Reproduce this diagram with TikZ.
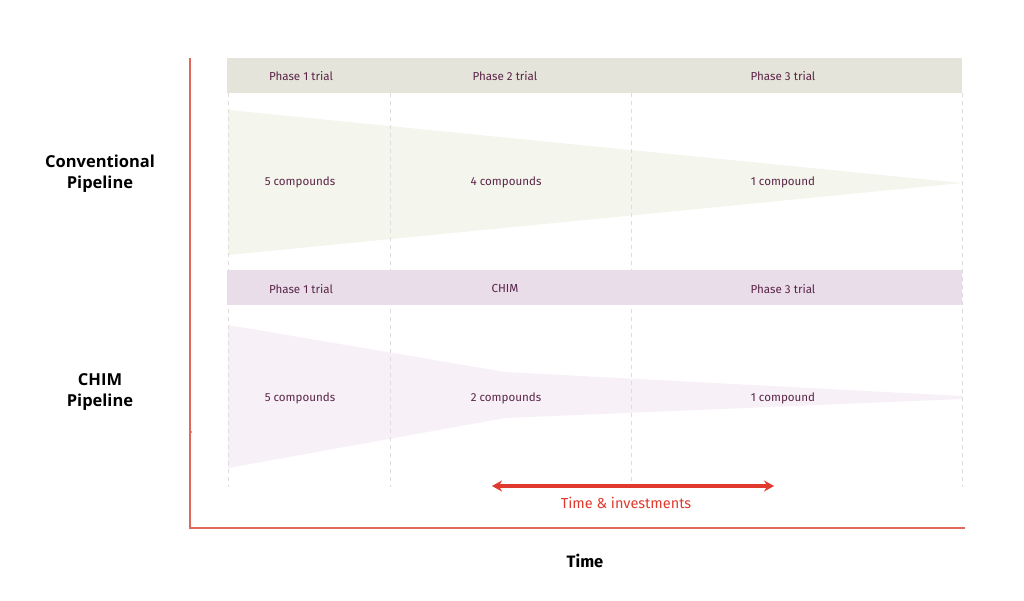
\documentclass[tikz,border=0pt]{standalone}
\usepackage{fontspec}
\setmainfont{Fira Sans}
\newfontfamily\titlefont{Open Sans}
\usetikzlibrary{arrows.meta}
\definecolor{labelc}{HTML}{5A2447}
\definecolor{bandA}{HTML}{E5E4DA}
\definecolor{bandB}{HTML}{E9DDEA}
\definecolor{funA}{HTML}{F4F5EC}
\definecolor{funB}{HTML}{F7F1F7}
\definecolor{axisc}{HTML}{E0675C}
\definecolor{arrowc}{HTML}{E0392D}
\definecolor{dashc}{HTML}{DCDCDC}
\tikzset{
  lbl/.style={text=labelc, font=\fontsize{11.6}{14}\selectfont, inner sep=0pt, anchor=center},
  ttl/.style={text=black, font=\titlefont\fontsize{16.5}{21}\selectfont\bfseries, align=center, inner sep=0pt},
  axlbl/.style={text=black, font=\fontsize{16.5}{21}\selectfont\bfseries, inner sep=0pt},
  guide/.style={draw=dashc, line width=0.8pt, dash pattern=on 4pt off 4pt},
  axis/.style={draw=axisc, line width=1.4pt},
}
\begin{document}
\begin{tikzpicture}[x=1pt,y=-1pt]
\useasboundingbox[fill=white] (0,0) rectangle (1024,601);
% funnels
\fill[funA] (228,110) -- (962,183) -- (228,255) -- cycle;
\fill[funB] (228,325) -- (505,372) -- (962,396) -- (962,399) -- (505,418) -- (228,468) -- cycle;
% dashed guides
\foreach \x in {228,390,631,962}{
  \draw[guide] (\x,93) -- (\x,487);
}
% bands
\fill[bandA] (227,58) rectangle (962,93);
\fill[bandB] (227,270) rectangle (962,305);
% band labels
\node[lbl] (a1) at (301,76) {Phase 1 trial};
\node[lbl] (a2) at (505,76) {Phase 2 trial};
\node[lbl] (a3) at (783,76) {Phase 3 trial};
\node[lbl] (b1) at (301,289) {Phase 1 trial};
\node[lbl] (b2) at (505,289) {CHIM};
\node[lbl] (b3) at (783,289) {Phase 3 trial};
% compounds
\node[lbl] (c1) at (300,182) {5 compounds};
\node[lbl] (c2) at (506,182) {4 compounds};
\node[lbl] (c3) at (783,182) {1 compound};
\node[lbl] (d1) at (300,398) {5 compounds};
\node[lbl] (d2) at (506,398) {2 compounds};
\node[lbl] (d3) at (783,398) {1 compound};
% titles
\node[ttl] (conv) at (100,174) {Conventional\\Pipeline};
\node[ttl] (chim) at (100,392) {CHIM\\Pipeline};
% axes
\coordinate (top) at (190,58);
\coordinate (origin) at (190,528);
\coordinate (right) at (965,528);
\draw[axis] (top) -- (origin) -- (right);
\fill[axisc] (191,432) circle (1.1pt);
\node[axlbl] (time) at (585,561) {Time};
% arrow
\coordinate (l) at (492,486);
\coordinate (r) at (774,486);
\draw[arrowc, line width=3.4pt, {Stealth[length=10pt,width=11pt]}-{Stealth[length=10pt,width=11pt]}] (l) -- (r);
\node[text=arrowc, font=\fontsize{14.5}{16}\selectfont, inner sep=0pt] (ti) at (626,503) {Time \& investments};
\end{tikzpicture}
\end{document}
